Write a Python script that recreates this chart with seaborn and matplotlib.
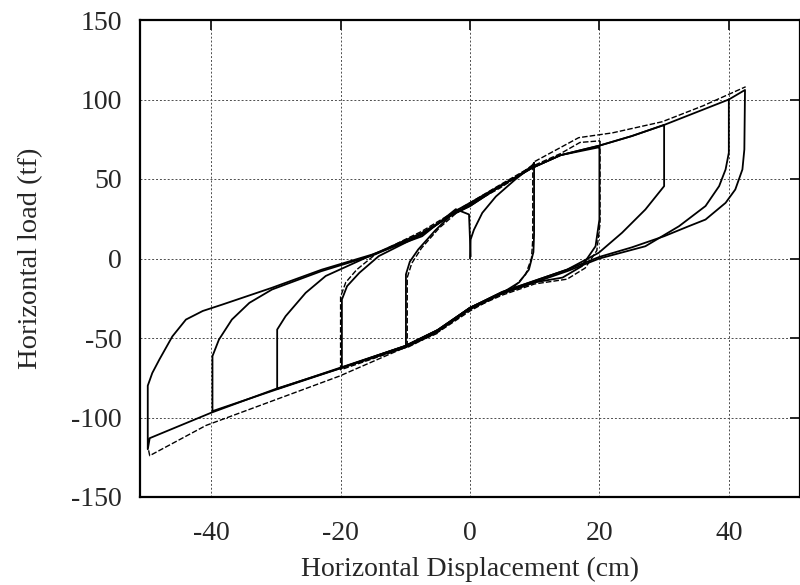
import matplotlib
matplotlib.use('Agg')
import matplotlib.pyplot as plt
import seaborn as sns
import pandas as pd

# 读图得到的滞回曲线数据 (位移 cm, 荷载 tf)
init_x = [0.0, 0.1, 0.6, 1.9, 4.0, 7.0, 9.6, 9.9]
init_y = [0.0, 12, 18, 28.7, 39, 49.7, 58, 60]

cyc10_x = [9.9, 9.9, 9.8, 9.1, 7.6, 5.0, 0.0, -4.8, -9.9, -9.9, -9.3, -8.0, -5.3, -2.2, 0.0, 4.5, 7.0, 9.6, 9.9]
cyc10_y = [60, 15, 4, -7, -15, -21.6, -31, -45, -55, -10, -2, 5.7, 18, 30, 35, 45.5, 51, 58, 60]

cyc10b_x = [9.7, 9.7, 9.5, 8.6, 6.8, 4.0, 0.0, -4.8, -9.7, -9.7, -9.0, -7.5, -4.8, -2.0, 0.0, 4.5, 7.0, 9.7]
cyc10b_y = [59, 12, 0, -10, -18, -24, -33, -46, -56, -12, -3, 6.5, 19, 29, 34, 44, 50.5, 59]

cyc20_x = [20, 20, 19.4, 17.3, 14.3, 10, 5, 0, -5, -10, -19.8, -19.8, -19.0, -17.1, -14.1, -7.5, -3, 0, 4.5, 9.6, 14, 20]
cyc20_y = [70, 24.5, 7.7, -4.8, -12, -15, -22, -31, -45, -55, -68.6, -25.8, -17.4, -9, 1.5, 15, 27, 34, 45, 57, 65, 70]

cyc20b_x = [20.1, 20.1, 19.6, 17.8, 15, 10, 5, 0, -5, -10, -20, -20, -19.2, -17.5, -14.5, -7.5, -3, 0, 4.5, 9.6, 14, 17, 20.1]
cyc20b_y = [74, 22, 5, -6, -13, -16, -23, -32, -46, -56, -70, -24, -15, -7, 3, 17, 28, 35, 46, 58, 66, 73, 74]

cyc30_x = [30, 30, 27.1, 23.5, 19.9, 15, 10, 5, 0, -5, -10, -20, -29.8, -29.8, -28.5, -25.4, -22.3,
           -15, -7.5, -3, 0, 4.5, 9.6, 14, 20, 25, 30]
cyc30_y = [84, 45.5, 30.8, 16.2, 3.6, -7, -14, -21, -31, -45, -55, -68.6, -82, -44.7, -36.3, -21.6, -11,
           2.5, 16, 27, 33, 45, 57, 65, 71, 77, 84]

cyc40_x = [40, 40, 39.5, 38.5, 36.4, 32.3, 27.1, 20, 15, 10, 5, 0, -5, -10, -20, -30, -39.8, -39.8, -38.8,
           -36.8, -34.1, -30.6, -23, -15, -7.5, -3, 0, 4.5, 9.6, 14, 20, 25, 30, 35, 40]
cyc40_y = [100, 66.5, 56, 45.5, 33, 20.3, 7.7, 0, -8, -15, -22, -32, -46, -56, -69, -82.5, -96, -61.4, -51,
           -38.4, -27.9, -19.5, -8, 2, 15, 27, 33, 45, 57, 65, 71, 77, 84, 92, 100]

cyc50_x = [40, 42.5, 42.4, 42.1, 41, 39.5, 36.4, 33.8, 30, 25, 20, 15, 10, 5, 0, -5, -10, -20, -30, -40,
           -49.5, -49.8, -49.8, -49.1, -48, -46, -43.9, -41.3, -38.3, -30.6, -22.9, -15.1, -7.4, -2.2, -0.15, 0.1]
cyc50_y = [100, 106, 68.6, 56, 43.4, 35, 24.5, 20.3, 14, 7, 1, -7, -14, -21, -31, -45, -55, -69, -82, -97,
           -113, -120, -80, -72, -63.5, -49, -38.4, -33, -29, -18.4, -7, 2.5, 14, 31, 27.7, 1.3]

# 外侧虚线 (首圈)
outer_low_x = [-5, -20.2, -40.8, -49.5, -49.8]
outer_low_y = [-47, -74, -105, -124, -118]
outer_up_x = [10, 16.8, 22, 29.7, 36, 41.5, 42.6]
outer_up_y = [61, 76, 79, 86, 96, 106, 108]

x_ticks = [-40, -20, 0, 20, 40]
y_ticks = [-150, -100, -50, 0, 50, 100, 150]

solid = [(init_x, init_y), (cyc10_x, cyc10_y), (cyc20_x, cyc20_y), (cyc30_x, cyc30_y),
         (cyc40_x, cyc40_y), (cyc50_x, cyc50_y)]
dashed = [(cyc10b_x, cyc10b_y), (cyc20b_x, cyc20b_y), (outer_low_x, outer_low_y), (outer_up_x, outer_up_y)]

sns.set_style('white')
plt.rcParams['font.family'] = ['Liberation Serif', 'DejaVu Serif']

fig = plt.figure(figsize=(8, 5.85), dpi=100)
ax = fig.add_axes([140 / 800, 88 / 585, 660 / 800, 477 / 585])

for xs, ys in solid:
    df = pd.DataFrame({'x': xs, 'y': ys})
    sns.lineplot(data=df, x='x', y='y', sort=False, estimator=None, color='black', lw=1.3, ax=ax)
for xs, ys in dashed:
    df = pd.DataFrame({'x': xs, 'y': ys})
    sns.lineplot(data=df, x='x', y='y', sort=False, estimator=None, color='black', lw=1.0,
                 linestyle=(0, (4, 1.5)), ax=ax)

ax.set_xlim(-51, 51)
ax.set_ylim(-150, 150)
ax.set_xticks(x_ticks)
ax.set_yticks(y_ticks)
ax.set_yticklabels([str(v) for v in y_ticks])
ax.set_xticklabels([str(v) for v in x_ticks])
ax.grid(True, color='0.3', lw=0.7, linestyle=(0, (2, 2)))
ax.tick_params(direction='in', length=7, width=1.4, top=True, right=True, labelsize=20)
ax.tick_params(axis='x', pad=17)
ax.tick_params(axis='y', pad=13)
for s in ax.spines.values():
    s.set_color('black')
    s.set_linewidth(1.6)

ax.set_xlabel('Horizontal Displacement (cm)', fontsize=20, labelpad=8)
ax.set_ylabel('Horizontal load (tf)', fontsize=20.5, labelpad=20)

fig.savefig('out.png', dpi=100)
